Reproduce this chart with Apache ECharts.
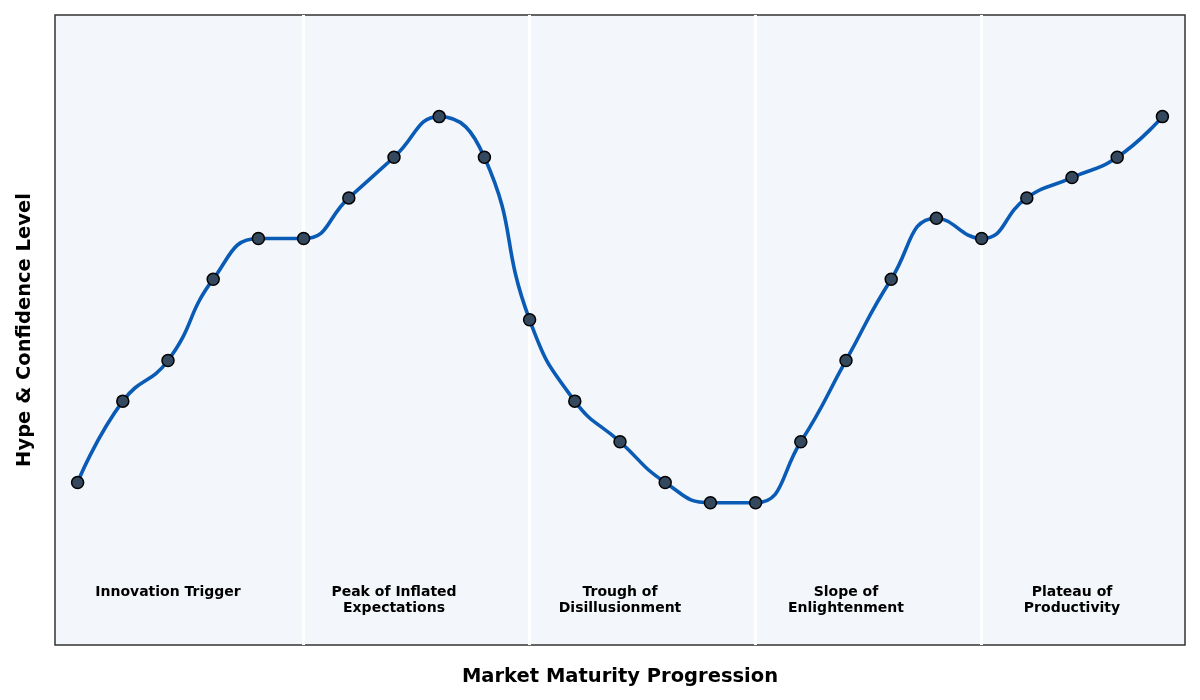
<!DOCTYPE html>
<html>
<head>
<meta charset="utf-8">
<script src="https://cdn.jsdelivr.net/npm/echarts@6/dist/echarts.min.js"></script>
<style>html,body{margin:0;padding:0;background:#fff;}#chart{width:1200px;height:700px;}</style>
</head>
<body>
<div id="chart"></div>
<script>
// Data
const stageIndex = [0,1,2,3,4,5,6,7,8,9,10,11,12,13,14,15,16,17,18,19,20,21,22,23,24];
const hypeValues = [4,6,7,9,10,10,11,12,13,12,8,6,5,4,3.5,3.5,5,7,9,10.5,10,11,11.5,12,13];
const phaseNames = ['Innovation Trigger','Peak of Inflated\nExpectations','Trough of\nDisillusionment','Slope of\nEnlightenment','Plateau of\nProductivity'];
const phaseCenters = [2,7,12,17,22];
const phaseLabelY = 1.5;
const phaseBoundaries = [5,10,15,20];
const xRange = [-0.5, 24.5];
const yRange = [0, 15.5];

const font = 'DejaVu Sans';
const chart = echarts.init(document.getElementById('chart'));
chart.setOption({
  animation: false,
  backgroundColor: '#ffffff',
  grid: {left: 55, right: 15, top: 15, bottom: 55, show: true,
         backgroundColor: '#f3f6fa', borderColor: '#333333', borderWidth: 1.5},
  xAxis: {
    type: 'value', min: xRange[0], max: xRange[1],
    name: 'Market Maturity Progression', nameLocation: 'middle', nameGap: 22,
    nameTextStyle: {fontFamily: font, fontWeight: 'bold', fontSize: 19.5, color: '#000'},
    axisLine: {show: false}, axisTick: {show: false}, axisLabel: {show: false}, splitLine: {show: false}
  },
  yAxis: {
    type: 'value', min: yRange[0], max: yRange[1],
    name: 'Hype & Confidence Level', nameLocation: 'middle', nameGap: 20,
    nameTextStyle: {fontFamily: font, fontWeight: 'bold', fontSize: 19.5, color: '#000'},
    axisLine: {show: false}, axisTick: {show: false}, axisLabel: {show: false}, splitLine: {show: false}
  },
  series: [
    {
      type: 'line', data: [], z: 1, silent: true,
      markLine: {
        silent: true, symbol: ['none','none'], z: 1,
        label: {show: false},
        lineStyle: {color: '#ffffff', width: 3, type: 'solid', opacity: 1},
        emphasis: {disabled: true},
        data: phaseBoundaries.map(v => ({xAxis: v}))
      }
    },
    {
      type: 'line', z: 3,
      data: stageIndex.map((x, i) => [x, hypeValues[i]]),
      smooth: 0.5,
      lineStyle: {color: '#0a5bb5', width: 3.6},
      symbol: 'circle', symbolSize: 12, showAllSymbol: true,
      itemStyle: {color: '#34495e', borderColor: '#000000', borderWidth: 1.5}
    },
    {
      type: 'scatter', z: 4, silent: true, symbolSize: 0,
      itemStyle: {opacity: 1},
      data: phaseCenters.map((x, i) => ({value: [x, phaseLabelY], name: phaseNames[i]})),
      label: {
        show: true, position: 'inside', formatter: p => p.name,
        fontFamily: font, fontWeight: 'bold', fontSize: 14, color: '#000000',
        textBorderWidth: 0, textBorderColor: 'transparent',
        align: 'center', verticalAlign: 'top', lineHeight: 16
      }
    }
  ]
});
</script>
</body>
</html>
